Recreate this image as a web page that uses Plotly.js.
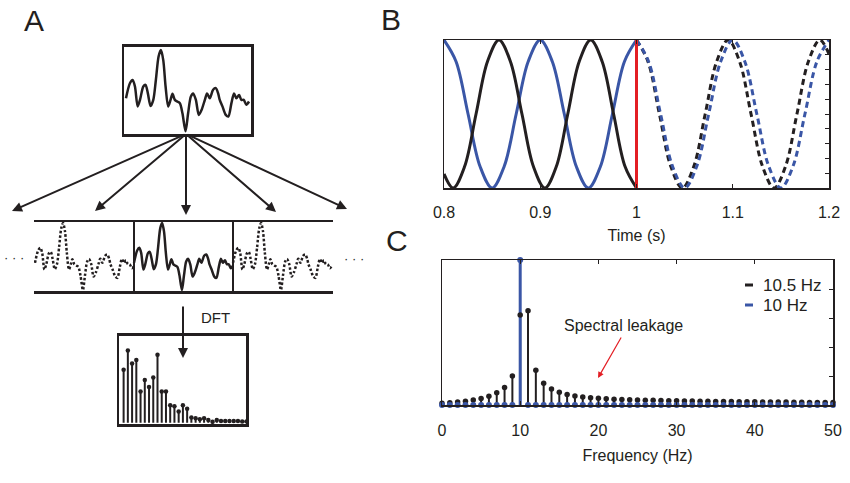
<!DOCTYPE html>
<html><head><meta charset="utf-8">
<script src="https://cdn.plot.ly/plotly-3.0.1.min.js"></script>
<style>html,body{margin:0;padding:0;background:#fff}#chart{width:850px;height:483px}</style>
</head><body><div id="chart"></div>
<script>
// ---------- Panel A: example signal (arbitrary units, one window t = 0..1) ----------
const sigT = [0,0.032,0.054,0.073,0.095,0.114,0.141,0.159,0.178,0.2,0.222,0.243,0.265,0.284,0.303,0.322,0.343,0.362,0.378,0.397,0.416,0.438,0.459,0.484,0.505,0.527,0.546,0.568,0.592,0.614,0.641,0.659,0.681,0.708,0.73,0.749,0.762,0.784,0.811,0.832,0.857,0.878,0.897,0.919,0.938,0.957,0.978,1.0];
const sigY = [-0.19,0.18,0.26,0.10,-0.39,-0.23,0.10,0.14,-0.07,-0.38,-0.23,0.26,0.84,1.0,0.75,0.10,-0.39,-0.23,-0.08,-0.23,-0.27,-0.31,-0.56,-1.0,-0.56,-0.15,-0.07,-0.23,-0.60,-0.48,-0.23,-0.07,-0.19,0.02,0.06,-0.07,-0.23,-0.39,-0.60,-0.64,-0.31,-0.07,-0.19,-0.11,-0.23,-0.23,-0.35,-0.27];
// Panel A: DFT magnitude (schematic)
const dftBin = [0,1,2,3,4,5,6,7,8,9,10,11,12,13,14,15,16,17,18,19,20,21,22,23,24,25,26,27,28,29];
const dftMag = [0.61,0.83,0.68,0.72,0.36,0.49,0.41,0.52,0.78,0.36,0.36,0.20,0.19,0.13,0.20,0.16,0.06,0.05,0.04,0.05,0.03,0.01,0.03,0.02,0.02,0.02,0.02,0.02,0.015,0.015];

// ---------- Panel B: time courses ----------
const blueSolidT  = [0.8,0.8125,0.825,0.8375,0.85,0.8625,0.875,0.8875,0.9,0.9125,0.925,0.9375,0.95,0.9625,0.975,0.9875,1.0];
const blueSolidY  = [1,0.71,0,-0.71,-1,-0.71,0,0.71,1,0.71,0,-0.71,-1,-0.71,0,0.71,1];
const blackSolidT = [0.8,0.8095,0.8214,0.8333,0.8452,0.8571,0.869,0.881,0.8929,0.9048,0.9167,0.9286,0.9405,0.9524,0.9643,0.9762,0.9881,1.0];
const blackSolidY = [-0.81,-1,-0.71,0,0.71,1,0.71,0,-0.71,-1,-0.71,0,0.71,1,0.71,0,-0.71,-1];
const blueDashT   = [1.0,1.0125,1.025,1.0375,1.05,1.0625,1.075,1.0875,1.1,1.1125,1.125,1.1375,1.15,1.1625,1.175,1.1875,1.2];
const blueDashY   = [1,0.71,0,-0.71,-1,-0.71,0,0.71,1,0.71,0,-0.71,-1,-0.71,0,0.71,1];
const blackDashT  = [1.0,1.0119,1.0238,1.0357,1.0476,1.0595,1.0714,1.0833,1.0952,1.1071,1.119,1.131,1.1429,1.1548,1.1667,1.1786,1.1905,1.2];
const blackDashY  = [1,0.71,0,-0.71,-1,-0.71,0,0.71,1,0.71,0,-0.71,-1,-0.71,0,0.71,1,0.81];
const cutT = [1.0, 1.0];
const cutY = [-1, 1];
const timeTicks = [0.8, 0.9, 1, 1.1, 1.2];
const timeTickText = ['0.8', '0.9', '1', '1.1', '1.2'];

// ---------- Panel C: spectra ----------
const freqHz = [0,1,2,3,4,5,6,7,8,9,10,11,12,13,14,15,16,17,18,19,20,21,22,23,24,25,26,27,28,29,30,31,32,33,34,35,36,37,38,39,40,41,42,43,44,45,46,47,48,49,50];
const mag10p5 = [0.012,0.015,0.02,0.026,0.035,0.045,0.06,0.085,0.12,0.20,0.62,0.65,0.24,0.15,0.11,0.088,0.072,0.062,0.055,0.05,0.046,0.043,0.04,0.038,0.036,0.034,0.033,0.032,0.031,0.03,0.029,0.028,0.027,0.026,0.026,0.025,0.024,0.024,0.023,0.022,0.022,0.021,0.021,0.02,0.02,0.019,0.019,0.018,0.018,0.017,0.017];
const mag10 = [0,0,0,0,0,0,0,0,0,0,1,0,0,0,0,0,0,0,0,0,0,0,0,0,0,0,0,0,0,0,0,0,0,0,0,0,0,0,0,0,0,0,0,0,0,0,0,0,0,0,0];
const freqTicks = [0,10,20,30,40,50];
const seriesNames = ['10.5 Hz', '10 Hz'];

// ---------- styling ----------
const INK = '#231f20', BLUE = '#3a56a6', RED = '#e31e24';
const FONT = 'Liberation Sans, Arial, Helvetica, sans-serif';
const W = 850, H = 483;
const px = x => x / W, py = y => 1 - y / H;

function stems(xs, ys) {
  const X = [], Y = [];
  xs.forEach((x, i) => { X.push(x, x, null); Y.push(0, ys[i], null); });
  return {X, Y};
}

const traces = [];
const sp = {shape:'spline', smoothing:1};
// Panel B
traces.push({x: blueSolidT, y: blueSolidY, xaxis:'x', yaxis:'y', mode:'lines', line:Object.assign({color:BLUE, width:3}, sp), hoverinfo:'skip'});
traces.push({x: blackSolidT, y: blackSolidY, xaxis:'x', yaxis:'y', mode:'lines', line:Object.assign({color:INK, width:3}, sp), hoverinfo:'skip'});
traces.push({x: blackDashT, y: blackDashY, xaxis:'x', yaxis:'y', mode:'lines', line:Object.assign({color:INK, width:3, dash:'6px,4px'}, sp), hoverinfo:'skip'});
traces.push({x: blueDashT, y: blueDashY, xaxis:'x', yaxis:'y', mode:'lines', line:Object.assign({color:BLUE, width:3, dash:'6px,4px'}, sp), hoverinfo:'skip'});
traces.push({x: cutT, y: cutY, xaxis:'x', yaxis:'y', mode:'lines', line:{color:RED, width:3}, hoverinfo:'skip'});

// Panel C
const sB = stems(freqHz, mag10p5), sU = stems(freqHz, mag10);
traces.push({x: sB.X, y: sB.Y, xaxis:'x2', yaxis:'y2', mode:'lines', line:{color:INK, width:2}, cliponaxis:false, hoverinfo:'skip'});
traces.push({x: sU.X, y: sU.Y, xaxis:'x2', yaxis:'y2', mode:'lines', line:{color:BLUE, width:3}, cliponaxis:false, hoverinfo:'skip'});
traces.push({x: freqHz, y: mag10p5, xaxis:'x2', yaxis:'y2', mode:'markers', marker:{color:INK, size:5.5}, cliponaxis:false, name:seriesNames[0]});
traces.push({x: freqHz, y: mag10, xaxis:'x2', yaxis:'y2', mode:'markers', marker:{color:BLUE, size:6}, cliponaxis:false, name:seriesNames[1]});

// Panel A: signal box
const sp2 = {shape:'spline', smoothing:0.8};
traces.push({x: sigT, y: sigY, xaxis:'x3', yaxis:'y3', mode:'lines', line:Object.assign({color:INK, width:2.5}, sp2), hoverinfo:'skip'});
// Panel A: periodic extension strip
traces.push({x: sigT.map(t => t - 1), y: sigY, xaxis:'x4', yaxis:'y4', mode:'lines', line:Object.assign({color:INK, width:2.5, dash:'2.5px,2px'}, sp2), hoverinfo:'skip'});
traces.push({x: sigT, y: sigY, xaxis:'x4', yaxis:'y4', mode:'lines', line:Object.assign({color:INK, width:2.5}, sp2), hoverinfo:'skip'});
traces.push({x: sigT.map(t => t + 1), y: sigY, xaxis:'x4', yaxis:'y4', mode:'lines', line:Object.assign({color:INK, width:2.5, dash:'2.5px,2px'}, sp2), hoverinfo:'skip'});
// Panel A: DFT stems
const sD = stems(dftBin, dftMag);
traces.push({x: sD.X, y: sD.Y, xaxis:'x5', yaxis:'y5', mode:'lines', line:{color:INK, width:2}, hoverinfo:'skip'});
traces.push({x: dftBin, y: dftMag, xaxis:'x5', yaxis:'y5', mode:'markers', marker:{color:INK, size:4.5}, hoverinfo:'skip'});

const tickFont = {family: FONT, size: 16, color: INK};
const boxAxis = {showline:true, mirror:true, linecolor:INK, linewidth:1.5, showgrid:false, zeroline:false, fixedrange:true};

const layout = {
  width: W, height: H,
  margin: {l:0, r:0, t:0, b:0},
  paper_bgcolor: '#fff', plot_bgcolor: 'rgba(0,0,0,0)',
  showlegend: false,
  font: {family: FONT, color: INK},
  xaxis: Object.assign({}, boxAxis, {domain:[px(444), px(829)], range:[0.8,1.2], anchor:'y', tickvals: timeTicks, ticktext: timeTickText,
        ticks:'inside', ticklen:4, tickcolor:INK, mirror:'ticks', tickfont: tickFont, ticklabelstandoff: 9,
        title:{text:'Time (s)', font:{family:FONT, size:16, color:INK}, standoff: 10}}),
  yaxis: Object.assign({}, boxAxis, {domain:[py(188), py(40)], range:[-1,1], anchor:'x', side:'right', ticks:'inside', ticklen:4, tickcolor:INK, dtick:0.2, showticklabels:false}),
  xaxis2: Object.assign({}, boxAxis, {domain:[px(442), px(833)], range:[0,50], anchor:'y2', tickvals: freqTicks,
        ticks:'inside', ticklen:4, tickcolor:INK, mirror:'ticks', tickfont: tickFont, ticklabelstandoff: 10,
        title:{text:'Frequency (Hz)', font:{family:FONT, size:16, color:INK}, standoff: 12}}),
  yaxis2: Object.assign({}, boxAxis, {domain:[py(405), py(260)], range:[0,1], anchor:'x2', side:'right', ticks:'inside', ticklen:4, tickcolor:INK, dtick:0.2, showticklabels:false}),
  xaxis3: Object.assign({}, boxAxis, {domain:[px(124), px(251)], range:[-0.016,1.016], anchor:'y3', linewidth:2.5, showticklabels:false, ticks:''}),
  yaxis3: Object.assign({}, boxAxis, {domain:[py(134), py(46.7)], range:[-1.07,1.08], anchor:'x3', linewidth:2.5, showticklabels:false, ticks:''}),
  xaxis4: {domain:[px(34), px(333)], range:[-1.01,2.01], anchor:'y4', showline:true, mirror:true, linecolor:INK, linewidth:2.5,
        tickvals:[0,1], showgrid:true, gridcolor:INK, gridwidth:1.5, zeroline:false, showticklabels:false, ticks:'', fixedrange:true},
  yaxis4: {domain:[py(291), py(222)], range:[-1.03,1.03], anchor:'x4', showline:false, showgrid:false, zeroline:false, showticklabels:false, ticks:'', fixedrange:true},
  xaxis5: Object.assign({}, boxAxis, {domain:[px(119.3), px(246)], range:[-1.02,28.9], anchor:'y5', linewidth:2.5, showticklabels:false, ticks:''}),
  yaxis5: Object.assign({}, boxAxis, {domain:[py(424), py(335.7)], range:[-0.015,1], anchor:'x5', linewidth:2.5, showticklabels:false, ticks:''}),
  shapes: [
    // legend keys (panel C)
    {type:'line', xref:'paper', yref:'paper', x0:px(745), x1:px(753), y0:py(285), y1:py(285), line:{color:INK, width:3}},
    {type:'line', xref:'paper', yref:'paper', x0:px(745), x1:px(753), y0:py(305), y1:py(305), line:{color:BLUE, width:3}}
  ],
  annotations: []
};

const A = layout.annotations;
function txt(x, y, text, size, extra) {
  A.push(Object.assign({xref:'paper', yref:'paper', x:px(x), y:py(y), text:text, showarrow:false,
    xanchor:'center', yanchor:'middle', font:{family:FONT, size:size, color:INK}}, extra || {}));
}
function arrow(tx, ty, hx, hy, color, width, head) {
  A.push({xref:'paper', yref:'paper', x:px(hx), y:py(hy), ax:tx - hx, ay:ty - hy, axref:'pixel', ayref:'pixel',
    text:'', showarrow:true, arrowhead:head, arrowsize:1, arrowwidth:width, arrowcolor:color, standoff:0, startstandoff:0});
}
// panel letters
txt(34, 21, 'A', 30);
txt(391, 19, 'B', 30);
txt(397, 240, 'C', 30);
// legend texts (panel C)
txt(761, 285, seriesNames[0], 17, {xanchor:'left'});
txt(761, 305, seriesNames[1], 17, {xanchor:'left'});
// spectral leakage label + arrow
txt(623, 325, 'Spectral leakage', 16);
arrow(622, 336, 598, 378, RED, 1.2, 2);
// panel A arrows from the signal window
arrow(186, 134, 12, 211, INK, 2, 2);
arrow(186, 134, 95, 211, INK, 2, 2);
arrow(186, 134, 186, 215, INK, 2, 2);
arrow(186, 134, 276, 212, INK, 2, 2);
arrow(186, 134, 347, 209, INK, 2, 2);
// DFT arrow
arrow(183, 305, 183, 358, INK, 2, 2);
txt(216, 317, 'DFT', 15);
// ellipses beside the strip
txt(2, 257, '· · ·', 13, {xanchor:'left'});
txt(342, 258, '· · ·', 13, {xanchor:'left'});

Plotly.newPlot('chart', traces, layout, {displayModeBar:false, staticPlot:true});
</script></body></html>
